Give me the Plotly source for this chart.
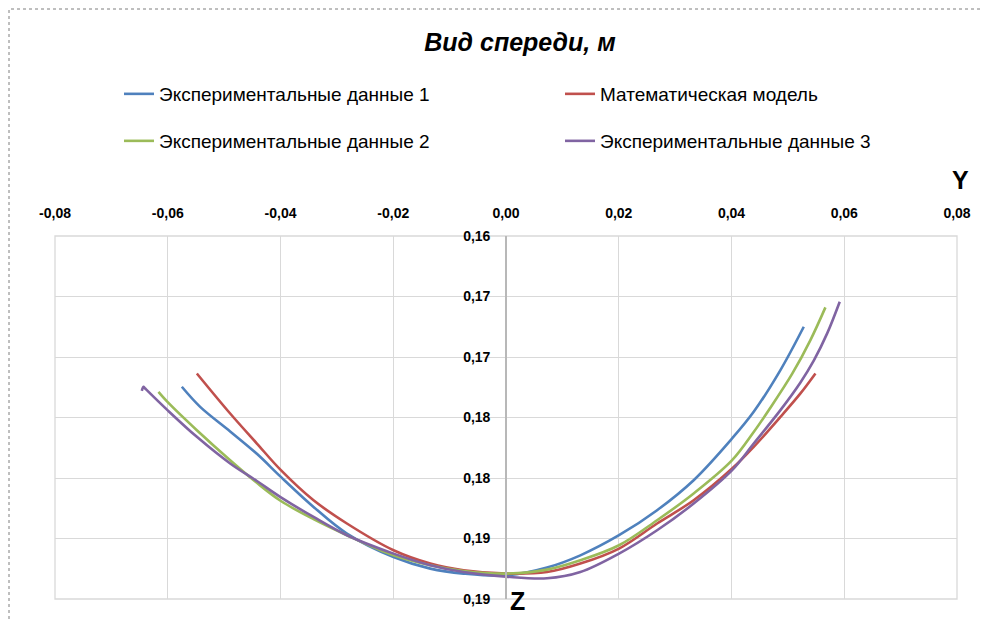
import plotly.graph_objects as go

# ---------------- data ----------------
exp1_y = [-0.05750, -0.05425, -0.04893, -0.04419, -0.03993, -0.03414, -0.02822, -0.01995,
          -0.01343, -0.00752, 0.00000, 0.00728, 0.01319, 0.02005, 0.02680, 0.03329,
          0.04011, 0.04394, 0.04868, 0.05282]
exp1_z = [0.17246, 0.17412, 0.17615, 0.17800, 0.17991, 0.18239, 0.18459, 0.18653,
          0.18749, 0.18790, 0.18805, 0.18740, 0.18639, 0.18473, 0.18266, 0.18018,
          0.17673, 0.17453, 0.17108, 0.16750]

model_y = [-0.05484, -0.04893, -0.04419, -0.03993, -0.03414, -0.02822, -0.01995, -0.01343,
           -0.00752, 0.00000, 0.00728, 0.01319, 0.02005, 0.02680, 0.03329, 0.04011,
           0.04394, 0.04868, 0.05223, 0.05489]
model_z = [0.17136, 0.17467, 0.17715, 0.17935, 0.18184, 0.18376, 0.18597, 0.18707,
           0.18763, 0.18790, 0.18777, 0.18707, 0.18583, 0.18376, 0.18184, 0.17922,
           0.17743, 0.17495, 0.17301, 0.17136]

exp2_y = [-0.06165, -0.06005, -0.05484, -0.04893, -0.04419, -0.03993, -0.03414, -0.02822,
          -0.01995, -0.01343, -0.00752, 0.00000, 0.00728, 0.01319, 0.02005, 0.02680,
          0.03329, 0.04011, 0.04394, 0.04660, 0.05075, 0.05400, 0.05666]
exp2_z = [0.17288, 0.17371, 0.17605, 0.17853, 0.18040, 0.18190, 0.18340, 0.18473,
          0.18639, 0.18721, 0.18768, 0.18790, 0.18757, 0.18680, 0.18556, 0.18349,
          0.18128, 0.17853, 0.17620, 0.17440, 0.17140, 0.16860, 0.16590]

exp3_y = [-0.06460, -0.06431, -0.06401, -0.06005, -0.05484, -0.04893, -0.04419, -0.03993,
          -0.03414, -0.02822, -0.01995, -0.01343, -0.00752, 0.00000, 0.00728, 0.01319,
          0.02005, 0.02680, 0.03329, 0.04011, 0.04394, 0.04868, 0.05223, 0.05459,
          0.05697, 0.05920]
exp3_z = [0.17280, 0.17246, 0.17260, 0.17439, 0.17660, 0.17880, 0.18025, 0.18160,
          0.18322, 0.18473, 0.18625, 0.18721, 0.18777, 0.18815, 0.18829, 0.18777,
          0.18625, 0.18432, 0.18211, 0.17935, 0.17715, 0.17439, 0.17210, 0.17030,
          0.16805, 0.16543]

series_names = ["Экспериментальные данные 1", "Математическая модель",
                "Экспериментальные данные 2", "Экспериментальные данные 3"]

x_tickvals = [-0.08, -0.06, -0.04, -0.02, 0.00, 0.02, 0.04, 0.06, 0.08]
x_ticktext = ["-0,08", "-0,06", "-0,04", "-0,02", "0,00", "0,02", "0,04", "0,06", "0,08"]
y_tickvals = [0.160, 0.165, 0.170, 0.175, 0.180, 0.185, 0.190]
y_ticktext = ["0,16", "0,17", "0,17", "0,18", "0,18", "0,19", "0,19"]

title_text = "Вид спереди, м"

# ---------------- figure ----------------
colors = ["#4F81BD", "#C0504D", "#9BBB59", "#8064A2"]
data = [(exp1_y, exp1_z), (model_y, model_z), (exp2_y, exp2_z), (exp3_y, exp3_z)]
legends = ["legend", "legend", "legend2", "legend2"]

fig = go.Figure()
for (xs, zs), name, c, lg in zip(data, series_names, colors, legends):
    fig.add_trace(go.Scatter(
        x=xs, y=zs, name=name, mode="lines",
        line=dict(color=c, width=2.6, shape="spline", smoothing=1.0),
        legend=lg,
    ))

FONT = "Liberation Sans, Arial, sans-serif"
W, H = 983, 619
L, R, T, B = 55, 26, 236, 20
PW, PH = W - L - R, H - T - B

leg_common = dict(
    orientation="h", xref="container", yref="container",
    xanchor="left", yanchor="middle",
    font=dict(family=FONT, size=19, color="#000000"),
    entrywidth=396, entrywidthmode="pixels",
    bgcolor="rgba(0,0,0,0)", borderwidth=0,
    itemclick=False,
)

fig.update_layout(
    width=W, height=H,
    margin=dict(l=L, r=R, t=T, b=B),
    paper_bgcolor="white", plot_bgcolor="white",
    separators=", ",
    title=dict(text="<b><i>" + title_text + "</i></b>", x=520 / W, xanchor="center",
               xref="container", yref="container", y=1 - 42 / H, yanchor="middle",
               font=dict(family=FONT, size=25, color="#000000")),
    showlegend=True,
    legend=dict(leg_common, x=119 / W, y=1 - 94 / H),
    legend2=dict(leg_common, x=119 / W, y=1 - 141 / H),
    xaxis=dict(
        range=[-0.08, 0.08], side="top", tickvals=x_tickvals, ticktext=x_ticktext,
        showgrid=True, gridcolor="#d9d9d9", gridwidth=1.3,
        zeroline=False, showline=False, ticks="",
        ticklabelstandoff=14,
        tickfont=dict(family=FONT, size=14, color="#000000", weight="bold"),
    ),
    yaxis=dict(
        range=[0.19, 0.16], tickvals=y_tickvals, ticktext=y_ticktext,
        anchor="free", position=0.5, side="left",
        showgrid=True, gridcolor="#d9d9d9", gridwidth=1.3,
        zeroline=False, showline=True, linecolor="#b8b8b8", linewidth=1.6,
        ticks="", ticklabelstandoff=12,
        tickfont=dict(family=FONT, size=14, color="#000000", weight="bold"),
    ),
    annotations=[
        dict(text="<b>Y</b>", xref="paper", yref="paper",
             x=(960 - L) / PW, y=(H - B - 180) / PH,
             showarrow=False, xanchor="center", yanchor="middle",
             font=dict(family=FONT, size=25, color="#000000")),
        dict(text="<b>Z</b>", xref="paper", yref="paper",
             x=(517 - L) / PW, y=(H - B - 601) / PH,
             showarrow=False, xanchor="center", yanchor="middle",
             font=dict(family=FONT, size=25, color="#000000")),
    ],
    shapes=[
        # outer chart border (dashed)
        dict(type="rect", xref="paper", yref="paper",
             x0=(9 - L) / PW, x1=(995 - L) / PW,
             y0=(H - B - 640) / PH, y1=(H - B - 9) / PH,
             line=dict(color="#7f7f7f", width=1, dash="dot"), layer="below"),
        # plot-area frame (gridlines at the range ends)
        dict(type="rect", xref="paper", yref="paper", x0=0, x1=1, y0=0, y1=1,
             line=dict(color="#d9d9d9", width=1.3), layer="below"),
    ],
)

fig.write_html("out.html")
